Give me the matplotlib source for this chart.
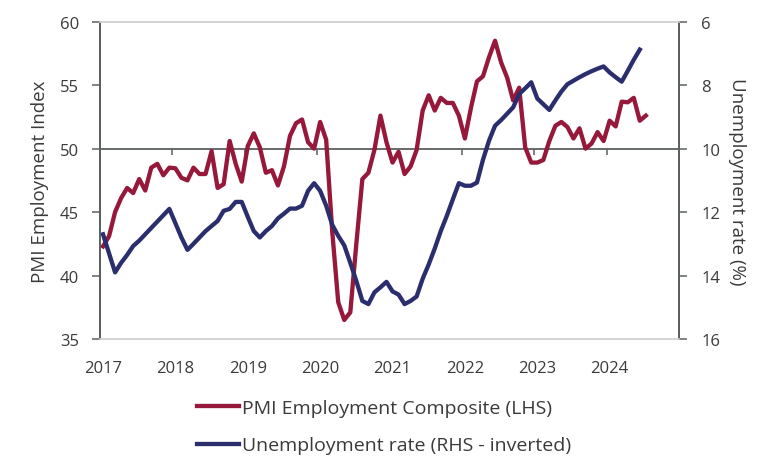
import numpy as np
import matplotlib
matplotlib.use("Agg")
import matplotlib.pyplot as plt
from matplotlib.lines import Line2D

plt.rcParams['font.family'] = ['Open Sans', 'DejaVu Sans']

# Monthly data, Jan 2017 onward (points plotted mid-month)
pmi = [42.3, 43.1, 45.0, 46.1, 46.9, 46.5, 47.6, 46.7, 48.5, 48.8, 47.9, 48.5,
       48.45, 47.7, 47.5, 48.5, 48.0, 48.0, 49.8, 46.9, 47.2, 50.6, 48.8, 47.4,
       50.2, 51.2, 50.1, 48.1, 48.3, 47.1, 48.6, 51.0, 52.0, 52.3, 50.5, 50.0,
       52.1, 50.7, 43.5, 37.9, 36.5, 37.1, 42.5, 47.6, 48.1, 49.9, 52.6, 50.5,
       48.9, 49.75, 48.0, 48.6, 49.9, 53.0, 54.2, 53.0, 54.0, 53.6, 53.6, 52.6,
       50.8, 53.2, 55.3, 55.7, 57.2, 58.5, 56.8, 55.6, 53.8, 54.8, 50.1, 48.9,
       48.9, 49.1, 50.6, 51.8, 52.1, 51.7, 50.8, 51.6, 50.0, 50.4, 51.3, 50.6,
       52.2, 51.75, 53.7, 53.65, 54.0, 52.2, 52.6]

unemp = [12.7, 13.3, 13.9, 13.6, 13.35, 13.07, 12.9, 12.7, 12.5, 12.3, 12.1, 11.9,
         12.35, 12.8, 13.19, 13.0, 12.8, 12.6, 12.44, 12.28, 11.96, 11.9, 11.68, 11.68,
         12.15, 12.6, 12.8, 12.6, 12.44, 12.2, 12.05, 11.89, 11.89, 11.8, 11.33, 11.09,
         11.33, 11.8, 12.4, 12.75, 13.05, 13.6, 14.17, 14.8, 14.9, 14.53, 14.37, 14.2,
         14.5, 14.6, 14.9, 14.8, 14.66, 14.1, 13.65, 13.15, 12.6, 12.12, 11.6, 11.09,
         11.17, 11.17, 11.07, 10.35, 9.75, 9.28, 9.1, 8.9, 8.7, 8.28, 8.1, 7.91,
         8.42, 8.6, 8.78, 8.48, 8.2, 7.97, 7.86, 7.75, 7.65, 7.56, 7.48, 7.41,
         7.6, 7.75, 7.89, 7.55, 7.2, 6.88]

years = [2017, 2018, 2019, 2020, 2021, 2022, 2023, 2024]

red = '#96183A'
navy = '#2B2E6C'
dark = '#5a5f5f'
light = '#d4d4d4'
txt = '#3a3a3a'

x_pmi = 2017 + (np.arange(len(pmi)) + 0.5) / 12
x_un = 2017 + (np.arange(len(unemp)) + 0.5) / 12

fig = plt.figure(figsize=(7.76, 4.77), dpi=100)
ax = fig.add_axes([100 / 776, 1 - 340 / 477, 579 / 776, 317.3 / 477])
ax2 = ax.twinx()

ax.plot(x_pmi, pmi, color=red, lw=3.1, solid_joinstyle='round')
ax2.plot(x_un, unemp, color=navy, lw=3.1, solid_joinstyle='round')

ax.set_xlim(2017, 2025)
ax.set_ylim(35, 60)
ax2.set_ylim(16, 6)
ax.set_yticks([35, 40, 45, 50, 55, 60])
ax2.set_yticks([6, 8, 10, 12, 14, 16])

# year labels at bottom, no tick marks
ax.set_xticks([y + 0.04 for y in years])
ax.set_xticklabels([str(y) for y in years])
ax.tick_params(axis='x', length=0, pad=15, labelsize=12, labelcolor=txt)
ax.tick_params(axis='y', length=6, width=1.1, color=dark, pad=9,
               labelsize=12, labelcolor=txt)
ax2.tick_params(axis='y', length=6, width=1.1, color=dark, pad=10,
                labelsize=12, labelcolor=txt)

# horizontal axis line at 50 with year tick marks
sec = ax.secondary_xaxis((50 - 35) / 25)
sec.set_xticks(years)
sec.tick_params(axis='x', direction='in', length=4, width=1.1, color=dark,
                labelsize=0, labeltop=False, labelbottom=False)
for s in sec.spines.values():
    s.set_color(dark)
    s.set_linewidth(1.3)

for a in (ax, ax2):
    a.spines['top'].set_color(light)
    a.spines['bottom'].set_color(light)
    a.spines['top'].set_linewidth(1.2)
    a.spines['bottom'].set_linewidth(1.2)
    a.spines['left'].set_color(dark)
    a.spines['right'].set_color(dark)
    a.spines['left'].set_linewidth(1.3)
    a.spines['right'].set_linewidth(1.3)

ax.set_ylabel('PMI Employment Index', fontsize=13.5, color=txt)
ax2.set_ylabel('Unemployment rate (%)', fontsize=13.5, color=txt, rotation=270)
ax.yaxis.set_label_coords((40 - 100) / 579, 0.5)
ax2.yaxis.set_label_coords((737 - 100) / 579, 0.5)
ax.yaxis.label.set_va('center')
ax2.yaxis.label.set_va('center')

handles = [Line2D([], [], color=red, lw=3.1),
           Line2D([], [], color=navy, lw=3.1)]
labels = ['PMI Employment Composite (LHS)', 'Unemployment rate (RHS - inverted)']
fig.legend(handles, labels, loc='upper left', bbox_to_anchor=(197 / 776, 1 - 400 / 477),
           frameon=False, fontsize=14, handlelength=2.15, handletextpad=0.15,
           labelspacing=1.0, borderpad=0, borderaxespad=0, labelcolor=txt)

fig.savefig('out.png', dpi=100)
